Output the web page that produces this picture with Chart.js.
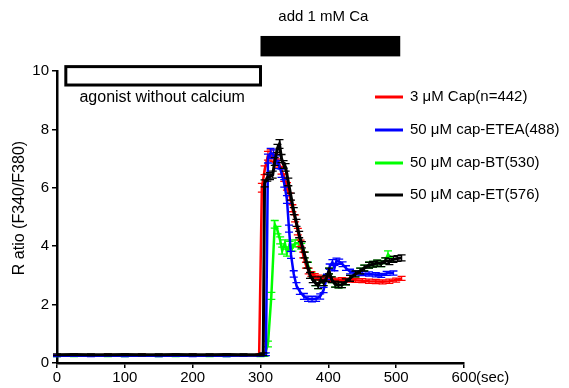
<!DOCTYPE html>
<html>
<head>
<meta charset="utf-8">
<script src="https://cdn.jsdelivr.net/npm/chart.js@4.4.1/dist/chart.umd.min.js"></script>
<style>
html,body{margin:0;padding:0;background:#fff;}
#wrap{width:569px;height:388px;position:relative;}
</style>
</head>
<body>
<div id="wrap"><canvas id="c" width="569" height="388"></canvas></div>
<script>
// ---------- data ----------
const seriesLabels = ['3 \u03bcM Cap(n=442)', '50 \u03bcM cap-ETEA(488)', '50 \u03bcM cap-BT(530)', '50 \u03bcM cap-ET(576)'];
const seriesColors = ['#ff0000', '#0000ff', '#00ff00', '#000000'];
const yTitle = 'R atio (F340/F380)';

const redT = [0,25,50,75,100,125,150,175,200,225,250,275,298,302,306,311,315,319,323,327,331,335,339,343,347,351,355,359,363,367,371,375,380,385,390,396,402,410,420,430,440,450,460,470,480,490,500,508];
const redV = [0.26,0.27,0.26,0.27,0.26,0.27,0.26,0.26,0.27,0.26,0.27,0.26,0.27,6.0,6.6,7.1,7.15,7.05,7.0,6.85,6.6,6.35,6.05,5.7,5.3,4.95,4.5,4.1,3.7,3.35,3.15,3.05,2.98,2.93,2.9,2.88,2.86,2.84,2.85,2.84,2.83,2.82,2.8,2.79,2.78,2.8,2.84,2.9];
const redE = [0.03,0.03,0.03,0.03,0.03,0.03,0.03,0.03,0.03,0.03,0.03,0.03,0.03,0.15,0.15,0.15,0.15,0.14,0.14,0.14,0.13,0.13,0.13,0.12,0.12,0.12,0.11,0.11,0.1,0.1,0.1,0.08,0.08,0.08,0.07,0.07,0.07,0.07,0.07,0.07,0.07,0.07,0.07,0.07,0.07,0.07,0.07,0.07];

const blueT = [0,25,50,75,100,125,150,175,200,225,250,275,300,308,311,315,319,323,327,331,335,339,342,345,349,353,358,364,370,376,382,388,393,398,402,406,409,412,416,421,426,432,440,450,460,470,478,486,496];
const blueV = [0.25,0.26,0.25,0.26,0.25,0.26,0.25,0.26,0.25,0.26,0.25,0.26,0.26,0.3,7.0,7.2,7.15,6.95,6.8,6.5,6.15,5.6,4.6,3.7,3.05,2.65,2.45,2.28,2.2,2.18,2.2,2.28,2.5,2.95,3.3,3.45,3.25,3.5,3.47,3.38,3.25,3.13,3.08,3.06,3.05,3.02,3.0,3.07,3.08];
const blueE = [0.03,0.03,0.03,0.03,0.03,0.03,0.03,0.03,0.03,0.03,0.03,0.03,0.03,0.05,0.15,0.15,0.15,0.14,0.14,0.14,0.13,0.13,0.12,0.12,0.11,0.1,0.1,0.1,0.09,0.09,0.09,0.09,0.09,0.09,0.09,0.09,0.09,0.09,0.09,0.08,0.08,0.08,0.07,0.07,0.07,0.07,0.07,0.07,0.07];

const greenT = [0,25,50,75,100,125,150,175,200,225,250,275,300,306,311,316,321,325,329,332,336,339,343,347,351,356,360,365,370,375,381,385,389,393,397,401,405,410,415,420,426,432,440,447,453,460,466,472,478,484,488,494];
const greenV = [0.25,0.25,0.26,0.25,0.25,0.26,0.25,0.25,0.26,0.25,0.25,0.26,0.25,0.28,0.65,2.3,4.75,4.55,4.2,3.85,4.1,3.78,4.05,3.95,4.1,4.1,4.0,3.7,3.35,3.0,2.75,2.65,2.85,2.75,2.9,3.15,2.85,2.7,2.67,2.68,2.78,2.9,3.05,3.15,3.25,3.35,3.38,3.42,3.4,3.5,3.72,3.55];
const greenE = [0.03,0.03,0.03,0.03,0.03,0.03,0.03,0.03,0.03,0.03,0.03,0.03,0.03,0.05,0.1,0.12,0.13,0.13,0.12,0.12,0.12,0.12,0.12,0.12,0.12,0.12,0.1,0.1,0.1,0.1,0.1,0.1,0.1,0.1,0.1,0.1,0.1,0.1,0.1,0.1,0.1,0.1,0.1,0.1,0.1,0.1,0.1,0.1,0.1,0.1,0.12,0.1];

const blackT = [0,25,50,75,100,125,150,175,200,225,250,275,300,304,306,310,314,318,321,325,328,331,334,337,341,345,349,353,357,361,365,369,373,377,381,385,389,393,397,401,405,410,415,420,426,432,440,447,453,460,466,472,478,484,490,496,502,508];
const blackV = [0.28,0.29,0.28,0.28,0.29,0.28,0.28,0.29,0.28,0.28,0.29,0.28,0.28,0.3,6.15,6.35,6.4,6.45,6.9,7.35,7.5,7.0,6.8,6.7,6.2,5.7,5.2,4.8,4.4,4.05,3.7,3.35,3.0,2.85,2.75,2.65,2.85,2.75,2.9,3.15,2.85,2.7,2.67,2.68,2.78,2.9,3.05,3.15,3.25,3.35,3.38,3.42,3.4,3.5,3.47,3.55,3.58,3.6];
const blackE = [0.03,0.03,0.03,0.03,0.03,0.03,0.03,0.03,0.03,0.03,0.03,0.03,0.03,0.05,0.12,0.12,0.12,0.12,0.13,0.14,0.15,0.14,0.13,0.13,0.13,0.12,0.12,0.12,0.11,0.11,0.1,0.1,0.1,0.1,0.1,0.1,0.1,0.1,0.1,0.1,0.1,0.1,0.1,0.1,0.1,0.1,0.1,0.1,0.1,0.1,0.1,0.1,0.1,0.1,0.1,0.1,0.1,0.1];

const xTicks = [0,100,200,300,400,500,600];
const yTicks = [0,2,4,6,8,10];

// annotation ranges (data units)
const noCaBar = {t0: 13, t1: 300, y0: 9.52, y1: 10.15, text: 'agonist without calcium'};
const caBar = {t0: 300, t1: 506, y0: 10.5, y1: 11.2, text: 'add 1 mM Ca'};

// ---------- build ----------
const tArr = [redT, blueT, greenT, blackT];
const vArr = [redV, blueV, greenV, blackV];
const eArr = [redE, blueE, greenE, blackE];
const drawOrder = [2, 1, 3, 0]; // lower = on top

const datasets = seriesLabels.map((lab, i) => ({
  label: lab,
  data: tArr[i].map((t, j) => ({x: t, y: vArr[i][j]})),
  errors: eArr[i],
  borderColor: seriesColors[i],
  backgroundColor: seriesColors[i],
  borderWidth: i === 3 ? 3 : 2.5,
  pointRadius: 0,
  tension: 0,
  order: drawOrder[i],
  clip: false
}));

const FONT = 'Liberation Sans, Arial, sans-serif';

const errorBars = {
  id: 'errorBars',
  afterDatasetDraw(chart, args) {
    const ds = chart.data.datasets[args.index];
    const meta = args.meta;
    const ys = chart.scales.y;
    const ctx = chart.ctx;
    ctx.save();
    ctx.strokeStyle = ds.borderColor;
    ctx.lineWidth = 1.3;
    meta.data.forEach((pt, j) => {
      const v = ds.data[j].y, e = ds.errors[j];
      if (!e) return;
      const yt = ys.getPixelForValue(v + e), yb = ys.getPixelForValue(v - e);
      const x = pt.x;
      ctx.beginPath();
      ctx.moveTo(x, yt); ctx.lineTo(x, yb);
      ctx.moveTo(x - 4, yt); ctx.lineTo(x + 4, yt);
      ctx.moveTo(x - 4, yb); ctx.lineTo(x + 4, yb);
      ctx.stroke();
    });
    ctx.restore();
  }
};

const annotations = {
  id: 'annotations',
  afterDraw(chart) {
    const ctx = chart.ctx, xs = chart.scales.x, ys = chart.scales.y;
    ctx.save();
    // open rectangle
    const rx0 = xs.getPixelForValue(noCaBar.t0), rx1 = xs.getPixelForValue(noCaBar.t1);
    const ry0 = ys.getPixelForValue(noCaBar.y1), ry1 = ys.getPixelForValue(noCaBar.y0);
    ctx.strokeStyle = '#000'; ctx.lineWidth = 3;
    ctx.strokeRect(rx0, ry0, rx1 - rx0, ry1 - ry0);
    ctx.fillStyle = '#000';
    ctx.font = '16px ' + FONT;
    ctx.textAlign = 'center'; ctx.textBaseline = 'middle';
    ctx.fillText(noCaBar.text, (rx0 + rx1) / 2 - 1, ry1 + 13);
    // filled bar
    ctx.font = '15px ' + FONT;
    const bx0 = xs.getPixelForValue(caBar.t0), bx1 = xs.getPixelForValue(caBar.t1);
    const by0 = ys.getPixelForValue(caBar.y1), by1 = ys.getPixelForValue(caBar.y0);
    ctx.fillRect(bx0, by0, bx1 - bx0, by1 - by0);
    ctx.fillText(caBar.text, (bx0 + bx1) / 2 - 7, 17);
    // (sec)
    const x600 = xs.getPixelForValue(600);
    ctx.textAlign = 'left';
    ctx.fillText('(sec)', x600 + 12, xs.bottom - 10);
    // y title
    ctx.save();
    ctx.translate(20, 208);
    ctx.rotate(-Math.PI / 2);
    ctx.font = '16px ' + FONT;
    ctx.textAlign = 'center';
    ctx.fillText(yTitle, 0, 0);
    ctx.restore();
    // legend
    ctx.font = '15px ' + FONT;
    const lx0 = 375, lx1 = 403;
    const rows = [97, 130, 163, 195];
    seriesLabels.forEach((lab, i) => {
      ctx.strokeStyle = seriesColors[i];
      ctx.lineWidth = 3;
      ctx.beginPath(); ctx.moveTo(lx0, rows[i]); ctx.lineTo(lx1, rows[i]); ctx.stroke();
      ctx.fillStyle = '#000';
      ctx.textAlign = 'left';
      ctx.fillText(lab, 410, rows[i]);
    });
    ctx.restore();
  }
};

new Chart(document.getElementById('c'), {
  type: 'line',
  data: {datasets},
  options: {
    responsive: false,
    animation: false,
    events: [],
    layout: {padding: {top: 71, right: 105, left: 0, bottom: 0}},
    plugins: {legend: {display: false}, tooltip: {enabled: false}},
    scales: {
      x: {
        type: 'linear', min: 0, max: 600,
        afterFit: s => { s.height = 25; },
        afterBuildTicks: s => { s.ticks = xTicks.map(v => ({value: v})); },
        ticks: {color: '#000', font: {size: 15, family: FONT}, padding: 1, maxRotation: 0},
        grid: {display: true, drawOnChartArea: false, drawTicks: true, tickLength: 5, color: '#000', lineWidth: 1.5},
        border: {display: true, color: '#000', width: 2.5}
      },
      y: {
        type: 'linear', min: 0, max: 10,
        afterFit: s => { s.width = 57; },
        afterBuildTicks: s => { s.ticks = yTicks.map(v => ({value: v})); },
        ticks: {color: '#000', font: {size: 15, family: FONT}, padding: 3},
        title: {display: false},
        grid: {display: true, drawOnChartArea: false, drawTicks: true, tickLength: 5, color: '#000', lineWidth: 1.5},
        border: {display: true, color: '#000', width: 2.5}
      }
    }
  },
  plugins: [errorBars, annotations]
});
</script>
</body>
</html>
